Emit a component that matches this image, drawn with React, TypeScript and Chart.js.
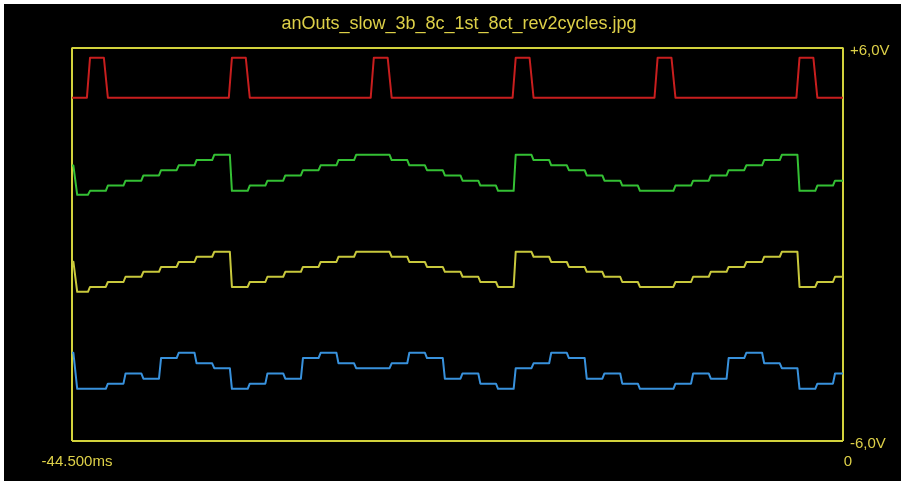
import React, { useEffect, useRef } from "react";
import { Chart, registerables } from "chart.js";

Chart.register(...registerables);

// ---- data (time in ms, values in V) ----
const titleText = "anOuts_slow_3b_8c_1st_8ct_rev2cycles.jpg";
const xTickValues = [-44.5, 0];
const xTickLabels = ["-44.500ms", "0"];
const yTickValues = [-6, 6];
const yTickLabels = ["-6,0V", "+6,0V"];

// red trigger pulse trace
const redTimes = [
  -44.5, -43.64, -43.46, -42.66, -42.43,
  -35.45, -35.27, -34.47, -34.24,
  -27.26, -27.08, -26.28, -26.05,
  -19.07, -18.89, -18.09, -17.86,
  -10.88, -10.7, -9.9, -9.67,
  -2.69, -2.51, -1.71, -1.48,
  0,
];
const redValues = [
  4.47, 4.47, 5.69, 5.69, 4.47,
  4.47, 5.69, 5.69, 4.47,
  4.47, 5.69, 5.69, 4.47,
  4.47, 5.69, 5.69, 4.47,
  4.47, 5.69, 5.69, 4.47,
  4.47, 5.69, 5.69, 4.47,
  4.47,
];

// step boundaries of the 3-bit counter outputs
const stepTimes = [
  -43.58, -42.55, -41.53, -40.5, -39.48, -38.46, -37.43, -36.41,
  -35.39, -34.36, -33.34, -32.31, -31.29, -30.27, -29.24, -28.22,
  -27.2, -26.17, -25.15, -24.13, -23.1, -22.08, -21.05, -20.03,
  -19.01, -17.98, -16.96, -15.94, -14.91, -13.89, -12.86, -11.84,
  -10.82, -9.79, -8.77, -7.75, -6.72, -5.7, -4.67, -3.65,
  -2.63, -1.6, -0.58,
];
const leadTimes = [-44.5, -44.42, -44.2];

const greenLead = [2.4, 2.4, 1.51];
const greenSteps = [
  1.63, 1.79, 1.94, 2.1, 2.26, 2.41, 2.57, 2.73,
  1.63, 1.79, 1.94, 2.1, 2.26, 2.41, 2.57, 2.73,
  2.73, 2.57, 2.41, 2.26, 2.1, 1.94, 1.79, 1.63,
  2.73, 2.57, 2.41, 2.26, 2.1, 1.94, 1.79, 1.63,
  1.63, 1.79, 1.94, 2.1, 2.26, 2.41, 2.57, 2.73,
  1.63, 1.79, 1.94,
];

const yellowLead = [-0.53, -0.53, -1.45];
const yellowSteps = [
  -1.3, -1.15, -0.99, -0.84, -0.69, -0.54, -0.38, -0.23,
  -1.3, -1.15, -0.99, -0.84, -0.69, -0.54, -0.38, -0.23,
  -0.23, -0.38, -0.54, -0.69, -0.84, -0.99, -1.15, -1.3,
  -0.23, -0.38, -0.54, -0.69, -0.84, -0.99, -1.15, -1.3,
  -1.3, -1.15, -0.99, -0.84, -0.69, -0.54, -0.38, -0.23,
  -1.3, -1.15, -0.99,
];

const blueLead = [-3.31, -3.31, -4.41];
const blueSteps = [
  -4.41, -4.25, -3.94, -4.1, -3.47, -3.31, -3.63, -3.78,
  -4.41, -4.25, -3.94, -4.1, -3.47, -3.31, -3.63, -3.78,
  -3.78, -3.63, -3.31, -3.47, -4.1, -3.94, -4.25, -4.41,
  -3.78, -3.63, -3.31, -3.47, -4.1, -3.94, -4.25, -4.41,
  -4.41, -4.25, -3.94, -4.1, -3.47, -3.31, -3.63, -3.78,
  -4.41, -4.25, -3.94,
];

const RAMP = 0.12;

function buildSteps(lead: number[], steps: number[]) {
  const pts: { x: number; y: number }[] = leadTimes.map((t, i) => ({ x: t, y: lead[i] }));
  let prev = lead[lead.length - 1];
  stepTimes.forEach((t, k) => {
    pts.push({ x: t, y: prev });
    pts.push({ x: t + RAMP, y: steps[k] });
    prev = steps[k];
  });
  pts.push({ x: 0, y: prev });
  return pts;
}

const BOX = "#d2d23c";
const TEXT = "#ddd048";

export default function App() {
  const ref = useRef<HTMLCanvasElement | null>(null);

  useEffect(() => {
    if (!ref.current) return;
    const lineDs = (label: string, data: any[], color: string) => ({
      label,
      data,
      borderColor: color,
      backgroundColor: color,
      borderWidth: 2,
      pointRadius: 0,
      tension: 0,
      fill: false,
      borderJoinStyle: "round" as const,
    });
    const chart = new Chart(ref.current, {
      type: "line",
      data: {
        datasets: [
          lineDs("red", redTimes.map((t, i) => ({ x: t, y: redValues[i] })), "#c81e1e"),
          lineDs("green", buildSteps(greenLead, greenSteps), "#34c034"),
          lineDs("yellow", buildSteps(yellowLead, yellowSteps), "#c8c83c"),
          lineDs("blue", buildSteps(blueLead, blueSteps), "#3891dc"),
        ],
      },
      options: {
        animation: false,
        responsive: true,
        maintainAspectRatio: false,
        layout: { padding: { left: 13, right: 0, top: 0, bottom: 0 } },
        plugins: {
          legend: { display: false },
          tooltip: { enabled: false },
          title: {
            display: true,
            text: titleText,
            color: TEXT,
            font: { family: "'Liberation Sans', Arial, sans-serif", size: 18, weight: "normal" },
            padding: { top: 9, bottom: 13 },
          },
        },
        scales: {
          x: {
            type: "linear",
            min: -44.5,
            max: 0,
            afterBuildTicks: (scale: any) => {
              scale.ticks = xTickValues.map((v) => ({ value: v }));
            },
            afterFit: (scale: any) => {
              scale.height = 40;
              scale.paddingLeft = 68;
              scale.paddingRight = 0;
            },
            ticks: {
              color: TEXT,
              font: { family: "'Liberation Sans', Arial, sans-serif", size: 15 },
              padding: 12,
              labelOffset: 5,
              maxRotation: 0,
              autoSkip: false,
              callback: (_v: any, i: number) => xTickLabels[i],
            },
            grid: { color: BOX, lineWidth: 2, drawTicks: false },
            border: { display: false },
          },
          y: {
            type: "linear",
            position: "right",
            min: -6,
            max: 6,
            afterBuildTicks: (scale: any) => {
              scale.ticks = yTickValues.map((v) => ({ value: v }));
            },
            afterFit: (scale: any) => {
              scale.width = 58;
            },
            ticks: {
              color: TEXT,
              font: { family: "'Liberation Sans', Arial, sans-serif", size: 15 },
              padding: 7,
              labelOffset: 3,
              autoSkip: false,
              callback: (_v: any, i: number) => yTickLabels[i],
            },
            grid: { color: BOX, lineWidth: 2, drawTicks: false },
            border: { display: false },
          },
        },
      },
    });
    return () => chart.destroy();
  }, []);

  return (
    <div
      style={{
        position: "fixed",
        left: 4,
        top: 4,
        width: 897,
        height: 477,
        background: "#000",
      }}
    >
      <canvas ref={ref} />
    </div>
  );
}
